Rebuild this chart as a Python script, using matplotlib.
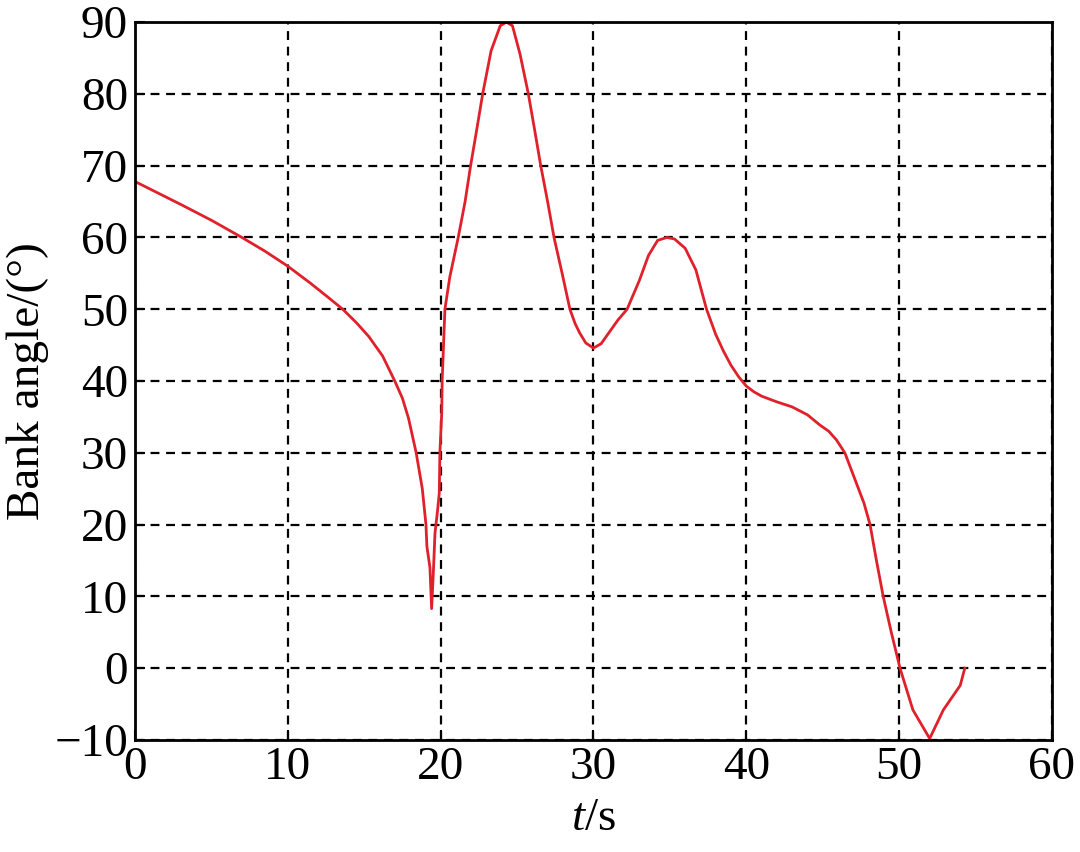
import matplotlib
matplotlib.use("Agg")
import matplotlib.pyplot as plt
import numpy as np

plt.rcParams['font.family'] = ['Liberation Serif', 'DejaVu Serif']
plt.rcParams['mathtext.fontset'] = 'custom'
plt.rcParams['mathtext.it'] = 'Liberation Serif:italic'
plt.rcParams['mathtext.rm'] = 'Liberation Serif'

t = [0, 1.5, 3, 5, 7, 8.5, 10, 11.5, 12.5, 13.6, 14.5, 15.3, 16.2, 17.0, 17.5, 17.9,
     18.4, 18.8, 19.04, 19.1, 19.2, 19.3, 19.41, 19.52, 19.63, 19.8, 19.91, 19.95, 20.07,
     20.1, 20.28, 20.4, 20.6, 20.8, 21.15, 21.6, 21.96, 22.36, 22.75, 23.3, 23.9, 24.3,
     24.7, 25.2, 25.74, 26.15, 26.55, 27.0, 27.42, 27.95, 28.46, 28.8, 29.1, 29.5, 30.0,
     30.5, 31.0, 31.6, 32.2, 33.0, 33.6, 34.2, 34.8, 35.3, 36.0, 36.7, 37.4, 38.0,
     38.5, 39.0, 39.5, 40.0, 40.5, 41.0, 42.0, 43.0, 44.0, 44.8, 45.4, 45.9, 46.45,
     47.2, 47.7, 48.1, 48.5, 48.96, 49.5, 50.06, 50.9, 52.0, 52.9, 54.0, 54.3]
bank = [67.8, 66.2, 64.6, 62.4, 60.0, 58.1, 56.0, 53.6, 51.9, 50.0, 48.1, 46.2, 43.5, 40.0,
        37.6, 34.8, 30.0, 25.0, 20.0, 17.0, 15.5, 14.0, 8.3, 13.2, 18.8, 22.0, 24.4,
        30.0, 35.5, 40.1, 50.0, 51.7, 54.5, 56.5, 60.0, 65.0, 70.0, 75.0, 80.0, 86.0,
        89.5, 90.0, 89.5, 85.5, 80.0, 75.0, 70.0, 65.0, 60.0, 55.0, 50.0, 48.0, 46.7,
        45.3, 44.6, 45.2, 46.7, 48.5, 50.0, 54.0, 57.5, 59.6, 60.0, 59.8, 58.5, 55.5,
        50.0, 46.5, 44.2, 42.2, 40.6, 39.3, 38.5, 37.9, 37.1, 36.4, 35.3, 33.9, 33.0,
        31.8, 30.0, 25.8, 23.0, 20.0, 15.2, 10.0, 4.9, 0.0, -5.8, -9.8, -5.8, -2.4, 0.0]

xticks = [0, 10, 20, 30, 40, 50, 60]
yticks = [-10, 0, 10, 20, 30, 40, 50, 60, 70, 80, 90]

fig = plt.figure(figsize=(10.8, 8.52), dpi=100)
ax = fig.add_axes([0.125, 0.1315, 0.849, 0.8425])
ax.plot(t, bank, color='#e0202a', lw=2.0)
ax.set_xlim(0, 60)
ax.set_ylim(-10, 90)
ax.set_xticks(xticks)
ax.set_yticks(yticks)
ax.grid(True, color='black', linestyle=(0, (4, 3)), linewidth=1.6)
ax.tick_params(direction='in', labelsize=34, length=7, width=1.5, pad=5,
               top=False, right=False)
for s in ax.spines.values():
    s.set_linewidth(2)
ax.set_xlabel(r'$t$/s', fontsize=34, labelpad=6)
ax.set_ylabel('Bank angle/(°)', fontsize=34, labelpad=4)
fig.savefig('out.png', dpi=100)
